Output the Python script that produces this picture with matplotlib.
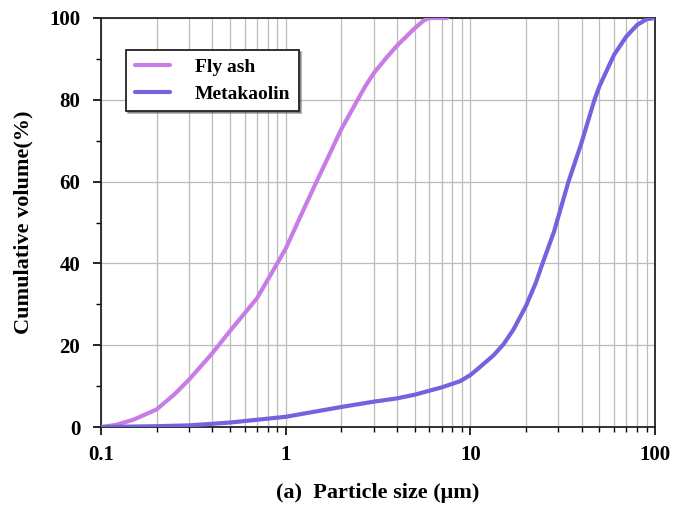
import matplotlib
matplotlib.use("Agg")
import matplotlib.pyplot as plt
from matplotlib.ticker import LogLocator, NullFormatter, MultipleLocator
import numpy as np

# Particle size distributions
fly_ash_size = [0.1, 0.12, 0.15, 0.2, 0.25, 0.3, 0.4, 0.5, 0.7, 0.9, 1.0, 1.2, 1.47, 1.7,
                2.0, 2.42, 2.69, 3.0, 3.5, 4.0, 5.0, 5.6, 6.0, 7.5]
fly_ash_cum = [0.0, 0.5, 1.8, 4.3, 8.0, 11.6, 18.0, 23.5, 31.5, 40.0, 43.6, 51.4, 60.0, 66.0,
               72.8, 79.5, 83.2, 86.5, 90.2, 93.2, 97.5, 99.4, 100.0, 100.0]

meta_size = [0.1, 0.2, 0.3, 0.5, 1.0, 2.0, 3.0, 4.0, 5.0, 7.0, 8.8, 10.0, 11.3, 13.4, 15.1,
             17.1, 20.0, 22.6, 24.6, 28.4, 34.0, 40.0, 47.0, 50.0, 60.0, 70.0, 80.0, 90.0, 100.0]
meta_cum = [0.0, 0.2, 0.4, 1.1, 2.5, 4.9, 6.2, 7.0, 7.9, 9.7, 11.2, 12.7, 14.7, 17.6, 20.2,
            23.8, 29.6, 35.2, 40.0, 47.8, 60.0, 69.5, 80.0, 83.3, 91.0, 95.5, 98.3, 99.7, 100.0]

x_ticks = [0.1, 1, 10, 100]
x_labels = ["0.1", "1", "10", "100"]
y_ticks = [0, 20, 40, 60, 80, 100]

plt.rcParams['font.family'] = ['Liberation Serif', 'DejaVu Serif']
plt.rcParams['font.weight'] = 'bold'

fig = plt.figure(figsize=(6.75, 5.08), dpi=100)
ax = fig.add_axes([0.1496, 0.1594, 0.8208, 0.8052])

ax.plot(fly_ash_size, fly_ash_cum, color='#c77ce6', lw=3, label='Fly ash',
        zorder=3, solid_joinstyle='round', solid_capstyle='round')
ax.plot(meta_size, meta_cum, color='#7264de', lw=3, label='Metakaolin',
        zorder=3, solid_joinstyle='round', solid_capstyle='round')

ax.set_xscale('log')
ax.set_xlim(0.1, 100)
ax.set_ylim(0, 100)
ax.set_xticks(x_ticks)
ax.set_xticklabels(x_labels)
ax.xaxis.set_minor_locator(LogLocator(base=10, subs=np.arange(2, 10)))
ax.xaxis.set_minor_formatter(NullFormatter())
ax.set_yticks(y_ticks)
ax.yaxis.set_minor_locator(MultipleLocator(10))

ax.grid(True, which='major', axis='both', color='#bbbbbb', lw=0.9)
ax.grid(True, which='minor', axis='x', color='#bbbbbb', lw=0.9)
ax.set_axisbelow(True)

ax.tick_params(which='major', direction='out', length=6, width=1.2, labelsize=15)
ax.tick_params(axis='x', which='major', pad=7)
ax.tick_params(axis='y', which='major', pad=9)
ax.tick_params(which='minor', direction='out', length=3.5, width=1.0)
for lbl in ax.get_xticklabels() + ax.get_yticklabels():
    lbl.set_fontweight('bold')
for s in ax.spines.values():
    s.set_linewidth(1.3)
    s.set_color('#222222')

ax.set_ylabel('Cumulative volume(%)', fontsize=16, fontweight='bold', labelpad=11)
ax.set_xlabel('(a)  Particle size (μm)', fontsize=16, fontweight='bold', labelpad=13)

leg = ax.legend(loc='upper left', bbox_to_anchor=(0.045, 0.922), borderaxespad=0,
                fontsize=14, frameon=True, fancybox=False,
                shadow={'ox': 1.5, 'oy': -1.5, 'alpha': 0.45},
                handlelength=1.8, borderpad=0.45, labelspacing=0.45, handletextpad=1.3)
leg.get_frame().set_edgecolor('#222222')
leg.get_frame().set_linewidth(1.3)
for t in leg.get_texts():
    t.set_fontweight('bold')

fig.savefig('out.png', dpi=100)
